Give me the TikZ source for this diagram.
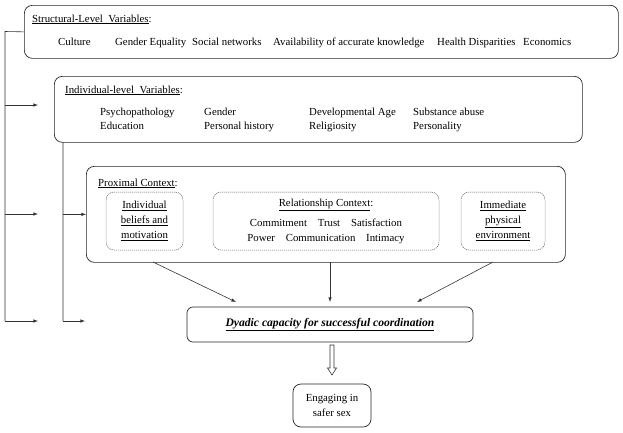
\documentclass[tikz,border=0pt]{standalone}
\usepackage{fontspec}
\setmainfont{Liberation Serif}
\usetikzlibrary{arrows,calc}
\definecolor{gray700}{HTML}{616161}
\tikzstyle{panel}=[draw=black!85, rounded corners=8pt, line width=0.7pt, inner sep=0pt, anchor=north west]
\tikzstyle{subpanel}=[draw=gray700, dash pattern=on 1.2pt off 0.8pt, rounded corners=8pt, line width=0.5pt, align=center, inner sep=0pt]
\tikzstyle{txt}=[anchor=base west, inner sep=0pt]
\tikzstyle{link}=[draw=black!80, line width=0.6pt]
\tikzstyle{feed}=[link, -latex]

\begin{document}
\begin{tikzpicture}[x=1pt, y=-1pt, font=\fontsize{10.8}{15}\selectfont]
			\useasboundingbox (0,0) rectangle (623,432);
			% panels
			\node[panel, minimum width=594pt, minimum height=53pt] (struct) at (24,5) {};
			\node[panel, minimum width=528pt, minimum height=66pt] (indiv) at (54,76) {};
			\node[panel, minimum width=479pt, minimum height=96pt] (prox) at (86,166) {};
			\node[subpanel, minimum width=77pt, minimum height=58pt] (belief) at (144.5,221)
				{\underline{Individual}\\\underline{beliefs and}\\\underline{motivation}};
			\node[subpanel, minimum width=226pt, minimum height=58pt] (relat) at (326,221)
				{\underline{Relationship Context}:\\[5pt]Commitment\quad Trust\quad Satisfaction\\Power\quad Communication\quad Intimacy};
			\node[subpanel, minimum width=84pt, minimum height=58pt] (physic) at (503,221)
				{\underline{Immediate}\\\underline{physical}\\\underline{environment}};
			\node[panel, anchor=center, rounded corners=6pt, minimum width=286pt, minimum height=35pt] (dyadic) at (330,324.5)
				{\fontsize{11.6}{14}\selectfont\underline{\bfseries\itshape Dyadic capacity for successful coordination}};
			\node[panel, anchor=center, align=center, minimum width=78pt, minimum height=43pt] (safer) at (332,405.5)
				{Engaging in\\safer sex};
			% structural-level texts
			\node[txt] (stitle) at (32,22) {\underline{Structural-Level\ \ Variables}:};
			\node[txt] (culture) at (58,45) {Culture};
			\node[txt] (equal) at (115,45) {Gender Equality};
			\node[txt] (social) at (192,45) {Social networks};
			\node[txt] (avail) at (273,45) {Availability of accurate knowledge};
			\node[txt] (health) at (437,45) {Health Disparities};
			\node[txt] (econ) at (523,45) {Economics};
			% individual-level texts
			\node[txt] (ititle) at (65,93) {\underline{Individual-level\ \ Variables}:};
			\node[txt] (psych) at (100,115) {Psychopathology};
			\node[txt] (educ) at (100,129) {Education};
			\node[txt] (gend) at (204,115) {Gender};
			\node[txt] (hist) at (204,129) {Personal history};
			\node[txt] (devel) at (309,115) {Developmental Age};
			\node[txt] (relig) at (309,129) {Religiosity};
			\node[txt] (subst) at (413,115) {Substance abuse};
			\node[txt] (pers) at (413,129) {Personality};
			% proximal title
			\node[txt] (ptitle) at (98,186) {\underline{Proximal Context}:};
			% connector ends
			\coordinate (outerTop) at (5,31.5);
			\coordinate (outerBot) at (5,321);
			\coordinate (innerTop) at (63,142);
			\coordinate (innerBot) at (63,321);
			\coordinate (indTip) at (38,105);
			\coordinate (proxTip) at (38,214);
			\coordinate (dyTipA) at (38,321);
			\coordinate (dyTipB) at (85,321);
			\coordinate (pl) at (153,262);
			\coordinate (pm) at (330,262);
			\coordinate (pr) at (493,262);
			\coordinate (tl) at (236,302);
			\coordinate (tm) at (330,302);
			\coordinate (tr) at (417,302);
			\coordinate (hs) at (332,345);
			\coordinate (he) at (332,375);
			% connectors
			\path[link]
				(struct.west)--(outerTop)--(outerBot)
				(innerTop)--(innerBot);
			\path[feed] (outerTop |- indTip)--(indTip);
			\path[feed] (outerTop |- proxTip)--(proxTip);
			\path[feed] (outerBot)--(dyTipA);
			\path[feed] (innerTop |- prox.west)--(prox.west);
			\path[feed] (innerBot)--(dyTipB);
			\path[feed] (pl)--(tl);
			\path[feed] (pm)--(tm);
			\path[feed] (pr)--(tr);
			% hollow arrow
			\path[link, fill=white]
				($(hs)+(-2,0)$)--($(hs)+(2,0)$)--($(he)+(2,-7)$)--($(he)+(4.5,-7)$)--(he)
				--($(he)+(-4.5,-7)$)--($(he)+(-2,-7)$)--cycle;
		\end{tikzpicture}
\end{document}
